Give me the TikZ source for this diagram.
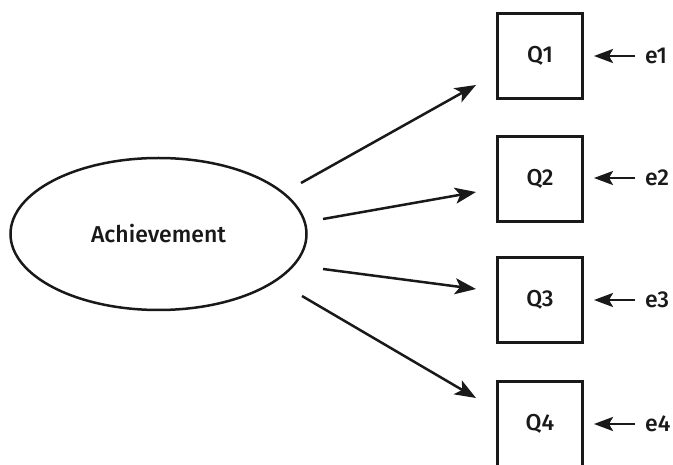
\documentclass[tikz,border=0pt]{standalone}
\usepackage{fontspec}
\setmainfont{Fira Sans Medium}
\usetikzlibrary{arrows.meta,shapes.geometric}
\begin{document}
\begin{tikzpicture}[x=1pt,y=-1pt,
  every node/.style={font=\fontsize{23}{27}\selectfont, text=black!90},
  latent/.style={draw=black!90, ellipse, line width=2.5pt, minimum width=296pt, minimum height=152pt, inner sep=0pt},
  obsbox/.style={draw=black!90, rectangle, line width=2.5pt, minimum width=85pt, minimum height=85pt, inner sep=0pt},
  errlab/.style={anchor=west, inner sep=0pt},
  path/.style={draw=black!90, line width=2.5pt, -{Stealth[length=21pt,width=16pt,inset=5pt]}},
  epath/.style={draw=black!90, line width=2.5pt, -{Stealth[length=19pt,width=14pt,inset=4pt]}}]
\useasboundingbox (0,0) rectangle (673,465);
\node[latent] (A) at (158.5,234) {Achievement};
\node[obsbox] (Q1) at (540,56) {Q1};
\node[obsbox] (Q2) at (540,179) {Q2};
\node[obsbox] (Q3) at (540,300) {Q3};
\node[obsbox] (Q4) at (540,424) {Q4};
\foreach \i/\y in {1/56,2/178,3/300,4/424}{
  \node[errlab] (e\i) at (645,\y) {e\i};
  \coordinate (es\i) at (635,\y);
  \coordinate (et\i) at (594,\y);
  \draw[epath] (es\i) -- (et\i);
}
\coordinate (s1) at (301,183);
\coordinate (t1) at (476,85);
\coordinate (s2) at (323,219);
\coordinate (t2) at (476,192);
\coordinate (s3) at (323,269);
\coordinate (t3) at (476,289);
\coordinate (s4) at (302,296);
\coordinate (t4) at (476,398);
\foreach \i in {1,2,3,4}{\draw[path] (s\i) -- (t\i);}
\end{tikzpicture}
\end{document}
